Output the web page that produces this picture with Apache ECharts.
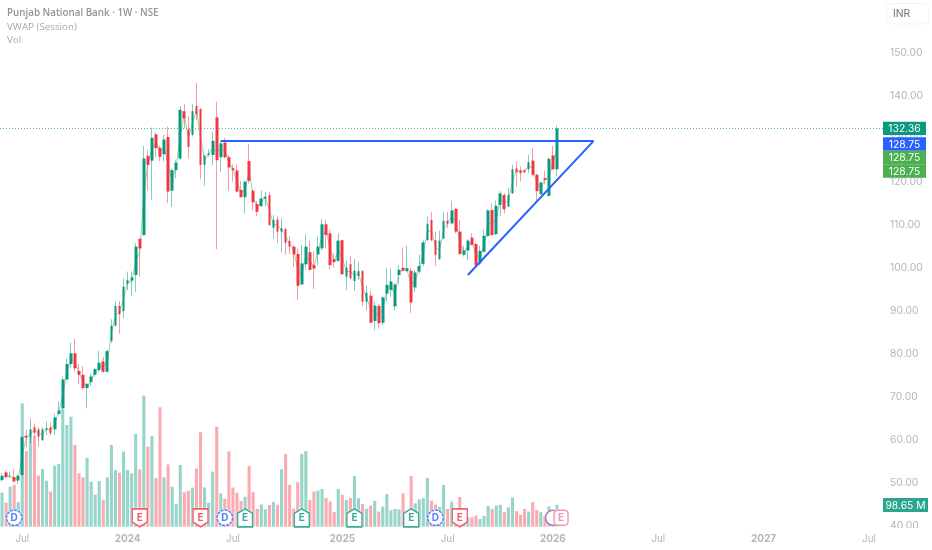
<!DOCTYPE html>
<html>
<head>
<meta charset="utf-8">
<style>html,body{margin:0;padding:0;background:#fff}#c{width:932px;height:550px}</style>
<script src="https://cdn.jsdelivr.net/npm/echarts@6/dist/echarts.min.js"></script>
</head>
<body>
<div id="c"></div>
<script>
const TITLE = 'Punjab National Bank · 1W · NSE';
const INDICATORS = 'VWAP (Session)\nVol';
const FUTURE_WEEKS = 80;
// [open, close, low, high]
const ohlc = [
[50.6,51.6,50.3,52.2],[52.4,51.3,51.0,52.8],[51.4,51.5,51.0,52.6],[51.3,50.3,50.0,53.1],[50.5,51.6,49.7,51.8],
[51.8,60.6,51.6,60.9],[60.9,60.5,58.2,62.3],[60.6,62.4,59.2,65.0],[62.9,61.6,60.7,63.8],[62.4,60.7,58.5,62.9],
[59.9,62.4,59.7,62.9],[62.3,62.7,61.1,64.2],[62.9,61.5,61.0,64.0],[62.4,65.2,61.1,66.0],[66.0,66.8,65.8,68.9],
[67.3,74.0,66.9,74.7],[74.0,77.6,73.9,78.9],[77.6,80.1,76.6,82.6],[80.1,76.6,75.9,83.4],[76.0,75.1,73.0,77.6],
[75.1,72.0,71.6,77.1],[72.0,73.0,67.3,73.1],[73.4,74.7,72.5,75.4],[75.1,76.4,74.7,76.6],[76.2,77.9,75.8,80.6],
[78.2,75.8,75.6,79.3],[75.8,80.6,75.6,80.9],[83.0,86.5,82.6,88.0],[86.5,91.1,86.4,92.1],[91.1,89.2,84.7,92.3],
[89.9,95.6,88.2,97.5],[96.2,97.1,94.8,99.1],[97.0,97.7,93.4,99.1],[98.3,104.9,94.4,105.7],[106.7,104.5,97.9,106.8],
[107.6,125.4,107.4,128.3],[126.0,123.9,117.9,127.4],[124.9,130.2,115.7,132.6],[131.0,127.8,125.8,131.5],[127.9,125.8,124.7,128.4],
[126.4,129.8,124.7,130.9],[130.4,117.7,115.0,132.8],[117.9,122.7,114.2,123.1],[122.7,124.4,120.8,125.0],[125.4,136.7,125.0,137.6],
[136.4,134.7,132.4,138.0],[132.2,128.1,125.4,135.3],[130.9,136.4,130.5,138.0],[137.6,135.7,134.3,142.9],[136.9,123.9,120.6,137.1],
[123.9,126.1,119.1,126.2],[126.2,126.6,125.8,127.6],[126.2,129.5,123.9,131.6],[135.0,125.0,104.3,138.6],[125.7,128.9,122.3,129.5],
[129.1,125.7,125.4,130.2],[125.7,123.3,117.9,126.2],[123.1,122.7,120.0,124.0],[122.6,117.7,117.5,124.0],[118.1,116.4,116.3,120.2],
[116.4,120.0,112.6,120.2],[124.8,120.2,119.6,128.8],[117.9,115.2,113.3,118.1],[114.8,113.0,112.0,115.5],[114.3,116.1,114.2,117.9],
[116.1,116.5,114.2,117.7],[116.9,109.9,109.8,117.5],[109.3,111.1,106.8,112.2],[111.2,108.4,105.7,111.9],[108.4,109.2,103.6,111.5],
[109.0,105.8,103.0,109.3],[106.2,104.9,103.2,107.4],[104.9,103.1,100.2,105.3],[103.2,95.8,92.5,104.5],[96.1,101.0,96.0,105.3],
[100.8,104.9,99.5,107.8],[103.6,99.5,99.3,106.3],[100.6,99.8,95.0,103.7],[103.1,104.9,100.6,107.2],[104.5,110.1,104.1,111.3],
[110.1,107.6,104.5,111.1],[108.0,100.6,99.6,108.8],[102.0,101.3,100.1,103.3],[101.6,106.3,101.4,108.0],[106.4,98.5,98.3,106.5],
[97.9,100.0,94.8,101.8],[100.8,97.5,97.3,102.7],[96.9,99.3,94.7,102.0],[98.1,99.2,97.1,101.4],[99.2,92.1,91.0,99.5],
[92.1,94.2,90.0,96.0],[93.5,87.2,87.1,94.6],[87.6,91.2,85.5,92.1],[91.1,87.1,85.8,91.6],[87.2,93.1,86.7,93.3],
[94.0,96.0,92.1,99.9],[94.8,96.8,93.3,99.9],[91.0,96.1,90.0,96.4],[98.3,99.5,96.2,100.6],[100.0,99.3,99.1,104.7],
[99.2,99.9,99.1,105.1],[99.3,91.9,89.5,99.9],[95.4,98.9,94.4,99.5],[99.1,100.4,98.7,103.0],[100.9,105.9,100.4,106.4],
[106.4,110.2,106.3,111.9],[111.1,106.4,106.1,112.9],[106.4,103.0,100.4,108.4],[102.0,106.3,101.8,108.6],[106.8,110.9,106.6,113.0],
[110.9,110.2,109.2,112.9],[110.3,113.3,110.1,115.6],[113.7,108.4,108.0,113.8],[108.4,103.2,103.0,111.1],[103.0,104.0,102.6,105.1],
[104.0,106.3,101.8,106.6],[107.0,105.3,105.1,108.0],[105.5,100.6,100.5,105.8],[101.0,103.9,100.6,105.1],[103.7,107.4,103.5,108.8],
[107.4,113.3,107.1,113.6],[113.4,107.6,107.4,115.0],[107.8,114.4,107.6,115.6],[114.6,117.3,112.0,117.8],[116.9,113.6,112.6,117.3],
[114.2,116.9,114.1,118.5],[117.3,122.9,117.2,123.9],[123.1,122.2,118.8,124.7],[122.7,122.0,120.0,123.6],[122.7,122.2,121.9,122.9],
[122.9,124.5,122.0,126.2],[124.9,121.6,121.2,127.8],[121.6,117.8,115.4,121.8],[117.1,119.8,116.9,120.0],[120.8,120.4,119.5,122.6],
[116.7,125.3,116.5,125.7],[126.1,122.9,122.7,128.3],[122.9,132.36,121.2,133.0]
];
// volume, millions
const volume = [
153,108,180,188,110,555,340,405,408,230,
260,207,158,275,282,528,458,495,368,240,
222,310,203,144,206,120,222,368,255,243,
338,255,240,417,258,590,360,408,219,537,
222,280,180,102,278,155,162,176,262,425,
177,108,248,450,150,126,339,176,153,116,
135,273,155,80,100,78,98,111,99,258,
327,188,81,200,327,340,120,158,162,170,
130,113,66,170,144,120,130,228,128,102,
81,95,117,68,90,147,74,80,78,150,
68,228,105,123,128,220,117,100,90,188,
80,113,78,134,60,45,42,50,35,48,
93,80,95,98,65,87,132,70,54,80,
68,111,75,65,48,90,38,98.65
];
const vwap = [
51.1,51.8,51.6,50.8,51.0,56.5,60.5,61.5,62.2,61.5,
61.2,62.5,62.2,63.8,66.3,70.5,75.8,78.8,78.2,75.5,
73.5,72.2,74.0,75.8,77.0,77.0,78.2,84.7,88.8,89.8,
92.8,96.6,96.8,101.5,103.5,116.5,124.5,127.5,129.0,126.8,
128.0,124.0,120.3,123.5,131.0,135.5,130.2,133.6,136.5,130.4,
125.0,126.4,127.8,127.0,127.3,127.4,124.5,122.9,120.2,117.3,
118.2,122.5,116.5,114.0,115.2,116.3,113.4,110.2,109.8,108.8,
107.4,105.5,104.0,99.5,98.5,102.8,101.5,100.2,104.0,107.3,
108.8,104.3,101.6,104.0,102.4,99.0,99.2,98.1,98.6,95.6,
93.1,90.3,89.4,89.1,90.1,95.0,95.8,93.5,98.9,99.6,
99.5,95.6,97.1,99.7,103.4,108.3,108.7,104.7,104.1,108.8,
110.5,111.8,111.0,105.8,103.5,105.1,106.1,103.0,102.4,105.5,
110.3,110.5,111.1,115.9,115.2,115.5,120.1,122.6,122.3,122.4,
123.7,123.2,119.7,118.4,120.6,121.0,124.5,127.6
];
// week index -> label on the time axis
const timeTicks = {5:'Jul',31:'2024',57:'Jul',84:'2025',110:'Jul',136:'2026',162:'Jul',188:'2027',214:'Jul'};
// drawn triangle: [week index, price]
const triangle = [[54,129.45],[146,129.45],[115,98.3]];
const lastPrice = 132.36;
// events under the candles: [week index, kind]
const events = [[3,'D'],[34,'Er'],[49,'Er'],[55,'D'],[60,'Eg'],[74,'Eg'],[87,'Eg'],[101,'Eg'],[107,'D'],[113,'Er'],[136,'P'],[138,'N']];
const EVENT_LEVEL = 40;
// price badges: text, background
const badges = [['132.36','#089981'],['128.75','#2962ff'],['128.75','#4caf50'],['128.75','#4caf50']];
const volBadge = '98.65 M';

const UP='#089981', DOWN='#f23645', FONT='Inter, "Open Sans", sans-serif', AX='#b2b5be';
const weeks=[]; for(let i=0;i<ohlc.length+FUTURE_WEEKS;i++) weeks.push('w'+i);

const shapes={
  Er:{symbol:'path://M1,0 H13 V12 L7,16 L1,12 Z',size:[15,18],color:'#f23645',text:'E'},
  Eg:{symbol:'path://M7,0 L13,4 V16 H1 V4 Z',size:[15,18],color:'#089981',text:'E'},
  D:{symbol:'circle',size:15.5,color:'#2962ff',text:'D',dash:true},
  P:{symbol:'circle',size:15,color:'#8e5a9e',text:''},
  N:{symbol:'roundRect',size:[14,15],color:'#ee7f9c',text:'E'}
};
const eventData=events.map(([i,k])=>{const s=shapes[k];return{
  value:[i,EVENT_LEVEL],symbol:s.symbol,symbolSize:s.size,
  itemStyle:{color:'#fff',borderColor:s.color,borderWidth:1.5,borderType:s.dash?[3,1]:'solid',shadowColor:'rgba(255,255,255,1)',shadowBlur:2},
  label:{show:!!s.text,formatter:s.text,position:'inside',color:s.color,fontSize:10,fontWeight:'bold',fontFamily:FONT}
};});

const badgeGraphics=[];
const BADGE_TOP=[121.7,137.2,150.7,164.2];
badges.forEach(([t,c],k)=>{
  badgeGraphics.push({type:'rect',z:100,shape:{x:883,y:BADGE_TOP[k],width:43,height:k==0?13.4:13.5},style:{fill:c}});
  badgeGraphics.push({type:'text',z:101,style:{x:904.5,y:BADGE_TOP[k]+7.2,text:t,align:'center',verticalAlign:'middle',fill:'#fff',font:'10.3px '+FONT}});
});

const chart=echarts.init(document.getElementById('c'),null,{renderer:'canvas'});
chart.setOption({
  animation:false,
  backgroundColor:'#fff',
  title:{text:TITLE,subtext:INDICATORS,left:7,top:6,padding:0,itemGap:0,
    textStyle:{fontSize:9.8,fontWeight:600,color:'#8f939c',fontFamily:'"Open Sans", sans-serif',lineHeight:14},
    subtextStyle:{fontSize:9.8,color:'#a6a9b2',fontFamily:'"Open Sans", sans-serif',lineHeight:13.5}},
  grid:[
    {left:-3.3,right:48.9,top:9.7,height:516,containLabel:false},
    {left:-3.3,right:48.9,top:326.7,height:200,containLabel:false}
  ],
  xAxis:[
    {type:'category',gridIndex:0,data:weeks,show:false,boundaryGap:true},
    {type:'category',gridIndex:1,data:weeks,boundaryGap:true,
     axisLine:{show:false},axisTick:{show:false},splitLine:{show:false},
     axisLabel:{interval:(i)=>timeTicks[i]!==undefined,margin:7.5,hideOverlap:false,
       formatter:(v,i)=>{const t=timeTicks[i]||'';return /^\d/.test(t)?'{y|'+t+'}':'{m|'+t+'}';},
       rich:{y:{color:AX,fontSize:10,fontWeight:'bold',fontFamily:FONT},m:{color:AX,fontSize:9.8,fontFamily:FONT}}}}
  ],
  yAxis:[
    {type:'value',gridIndex:0,position:'right',min:40,max:160,interval:10,
     axisLine:{show:false},axisTick:{show:false},splitLine:{show:false},
     axisLabel:{color:AX,fontSize:10.3,margin:7,padding:[2,0,0,0],showMaxLabel:false,fontFamily:FONT,formatter:v=>v.toFixed(2)}},
    {type:'value',gridIndex:1,min:0,max:900,show:false,splitLine:{show:false}}
  ],
  series:[
    {type:'bar',name:'Vol',xAxisIndex:1,yAxisIndex:1,barWidth:3.1,z:1,
     data:volume.map((v,i)=>({value:v,itemStyle:{color:ohlc[i][1]>=ohlc[i][0]?'rgba(8,153,129,0.42)':'rgba(242,54,69,0.42)'}}))},
    {type:'scatter',name:'Events',xAxisIndex:1,yAxisIndex:1,data:eventData,z:3,clip:false,silent:true},
    {type:'candlestick',name:'Wicks',xAxisIndex:0,yAxisIndex:0,barWidth:1,z:4,data:ohlc,
     itemStyle:{color:'rgba(8,153,129,0.5)',color0:'rgba(242,54,69,0.5)',borderColor:'rgba(8,153,129,0.5)',borderColor0:'rgba(242,54,69,0.5)',borderWidth:1}},
    {type:'line',name:'VWAP (Session)',xAxisIndex:0,yAxisIndex:0,data:vwap,showSymbol:false,z:5,
     lineStyle:{color:'rgba(76,175,80,0.55)',width:1}},
    {type:'candlestick',name:'Punjab National Bank',xAxisIndex:0,yAxisIndex:0,barWidth:3.2,z:6,
     data:ohlc.map(d=>[d[0],d[1],Math.min(d[0],d[1]),Math.max(d[0],d[1])]),
     itemStyle:{color:UP,color0:DOWN,borderColor:UP,borderColor0:DOWN,borderWidth:0},
     markLine:{silent:true,symbol:['none','none'],label:{show:false},animation:false,
       data:[{yAxis:lastPrice}],lineStyle:{type:[1,2],color:'#089981',width:1,opacity:0.7}}},
    {type:'line',name:'Triangle',xAxisIndex:0,yAxisIndex:0,data:triangle,showSymbol:false,z:7,
     lineStyle:{color:'#2962ff',width:2}}
  ],
  graphic:[
    {type:'rect',z:90,shape:{x:884,y:528,width:48,height:22},style:{fill:'#fff'}},
    {type:'rect',z:100,shape:{x:886.5,y:3.5,width:42,height:20.5,r:4},style:{fill:'#fff',stroke:'#f0f3fa',lineWidth:1}},
    {type:'text',z:101,style:{x:893,y:14,text:'INR',verticalAlign:'middle',fill:'#6a6d78',font:'10.3px '+FONT}},
    {type:'rect',z:100,shape:{x:883,y:498,width:45,height:14},style:{fill:'#2aa58e'}},
    {type:'text',z:101,style:{x:905.5,y:505.4,text:volBadge,align:'center',verticalAlign:'middle',fill:'#fff',font:'10.3px '+FONT}}
  ].concat(badgeGraphics)
});
</script>
</body>
</html>
